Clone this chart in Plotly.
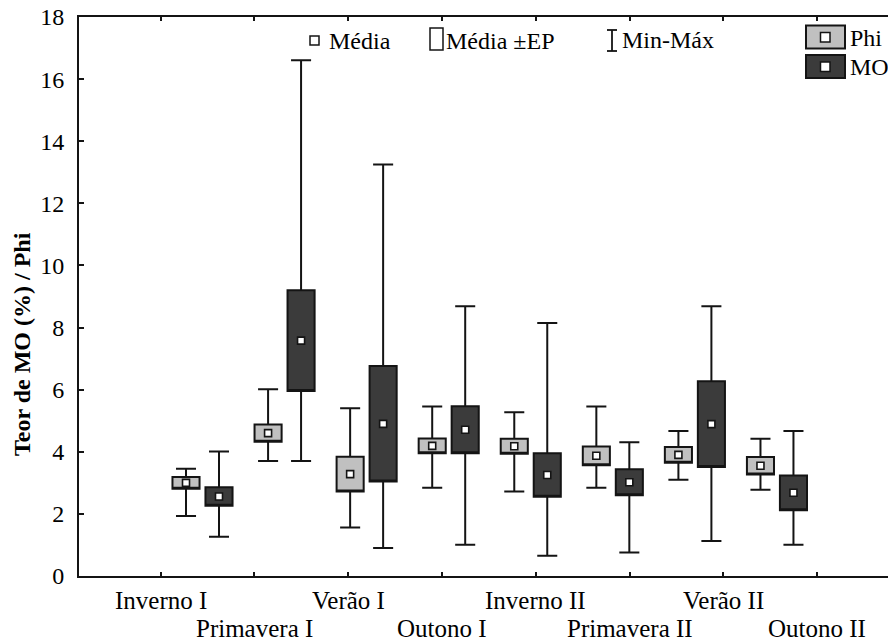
import plotly.graph_objects as go

# Estações de coleta
categorias = ["Inverno I", "Primavera I", "Verão I", "Outono I",
              "Inverno II", "Primavera II", "Verão II", "Outono II"]

# Phi: média, erro padrão, mínimo e máximo
phi_media = [3.00, 4.60, 3.28, 4.19, 4.18, 3.87, 3.90, 3.55]
phi_ep = [0.19, 0.28, 0.56, 0.24, 0.24, 0.30, 0.25, 0.28]
phi_min = [1.93, 3.70, 1.56, 2.84, 2.72, 2.84, 3.10, 2.78]
phi_max = [3.45, 6.01, 5.40, 5.46, 5.27, 5.46, 4.67, 4.42]

# Teor de matéria orgânica (%): média, erro padrão, mínimo e máximo
mo_media = [2.56, 7.58, 4.90, 4.71, 3.25, 3.02, 4.89, 2.68]
mo_ep = [0.30, 1.62, 1.86, 0.76, 0.70, 0.42, 1.38, 0.56]
mo_min = [1.26, 3.70, 0.90, 1.01, 0.65, 0.76, 1.13, 1.01]
mo_max = [4.01, 16.61, 13.25, 8.69, 8.15, 4.31, 8.69, 4.67]

LINHA = "#141414"
COR_PHI = "#c0c0c0"
COR_MO = "#3b3b3b"
FONTE = "Liberation Serif, Times New Roman, serif"

W, H = 888, 641
ML, MR, MT, MB = 79, 0, 17, 65
PW, PH = W - ML - MR, H - MT - MB

# eixo x em unidades de categoria (0..7)
X_MIN, X_MAX = -1.505, 8.353
DESLOC = 0.201
LARG = 0.33
T0 = -0.51


def px_x(p):
    return (p - ML) / PW


def px_y(p):
    return (H - MB - p) / PH


pos = list(range(len(categorias)))
fig = go.Figure()


def serie(media, ep, vmin, vmax, cor, desloc):
    x = [p + desloc for p in pos]
    q1 = [m - e for m, e in zip(media, ep)]
    q3 = [m + e for m, e in zip(media, ep)]
    fig.add_trace(go.Box(
        x=x, q1=q1, median=q1, q3=q3, lowerfence=vmin, upperfence=vmax,
        width=LARG, whiskerwidth=0.74, fillcolor=cor,
        line=dict(color=LINHA, width=2), boxpoints=False,
        showlegend=False, hoverinfo="skip"))
    fig.add_trace(go.Scatter(
        x=x, y=media, mode="markers",
        marker=dict(symbol="square", size=7, color="white",
                    line=dict(color=LINHA, width=1.6)),
        showlegend=False, hoverinfo="skip"))


serie(phi_media, phi_ep, phi_min, phi_max, COR_PHI, -DESLOC)
serie(mo_media, mo_ep, mo_min, mo_max, COR_MO, DESLOC)

ticks_x = [T0 + j * 8 / 7 for j in range(len(categorias))]

annotations = []
# rótulos das estações, alternados em duas linhas
for j, (t, nome) in enumerate(zip(ticks_x, categorias)):
    annotations.append(dict(
        x=t, xref="x", y=px_y(600 if j % 2 == 0 else 628), yref="paper",
        text=nome, showarrow=False, xanchor="center", yanchor="middle",
        font=dict(family=FONTE, size=25, color="black")))

# título do eixo y
annotations.append(dict(
    x=px_x(22), y=px_y(344), xref="paper", yref="paper",
    text="<b>Teor de MO (%) / Phi</b>", textangle=-90, showarrow=False,
    xanchor="center", yanchor="middle",
    font=dict(family=FONTE, size=24, color="black")))

# legenda
legenda_txt = [("Média", 327, 41), ("Média ±EP", 444, 41), ("Min-Máx", 620, 40),
               ("Phi", 848, 38), ("MO", 848, 67)]
for txt, xx, yy in legenda_txt:
    annotations.append(dict(
        x=px_x(xx), y=px_y(yy), xref="paper", yref="paper", text=txt,
        showarrow=False, xanchor="left", yanchor="middle",
        font=dict(family=FONTE, size=24, color="black")))

shapes = []


def ret(x0, y0, x1, y1, cor, lw):
    shapes.append(dict(type="rect", xref="paper", yref="paper",
                       x0=px_x(x0), x1=px_x(x1), y0=px_y(y0), y1=px_y(y1),
                       fillcolor=cor, line=dict(color=LINHA, width=lw)))


def seg(x0, y0, x1, y1):
    shapes.append(dict(type="line", xref="paper", yref="paper",
                       x0=px_x(x0), x1=px_x(x1), y0=px_y(y0), y1=px_y(y1),
                       line=dict(color=LINHA, width=1.8)))


ret(310, 36, 319, 45, "white", 1.5)
ret(430, 28, 443, 50, "white", 1.5)
seg(612, 30, 612, 51)
seg(607, 30, 617, 30)
seg(607, 51, 617, 51)
ret(806, 25.5, 845, 48.5, COR_PHI, 2)
ret(820.5, 32.5, 830, 42, "white", 1.5)
ret(806, 55, 845, 78, COR_MO, 2)
ret(820.5, 62, 830, 71.5, "white", 1.5)

fig.update_layout(
    width=W, height=H,
    margin=dict(l=ML, r=MR, t=MT, b=MB),
    paper_bgcolor="white", plot_bgcolor="white",
    boxmode="overlay",
    annotations=annotations, shapes=shapes,
    xaxis=dict(range=[X_MIN, X_MAX], tickvals=ticks_x, showticklabels=False,
               ticks="inside", ticklen=4, tickwidth=1.5, tickcolor=LINHA,
               showline=True, linewidth=2, linecolor=LINHA, mirror="ticks",
               showgrid=False, zeroline=False),
    yaxis=dict(range=[0, 18], dtick=2, tick0=0, ticks="inside", ticklen=5,
               tickwidth=1.5, tickcolor=LINHA, showline=True, linewidth=2,
               linecolor=LINHA, showgrid=False, zeroline=False,
               ticklabelstandoff=8,
               tickfont=dict(family=FONTE, size=24, color="black")),
)

fig.write_html("out.html")
